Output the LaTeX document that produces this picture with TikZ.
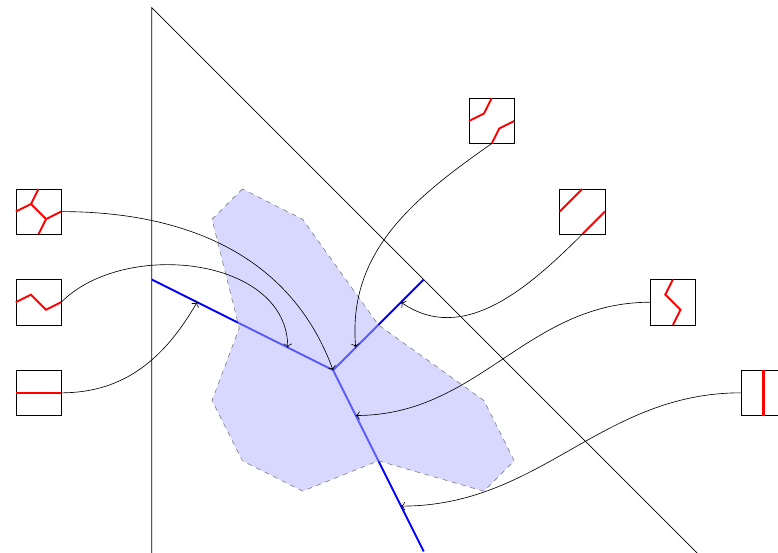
\documentclass[tikz,border=0pt]{standalone}
\usetikzlibrary{arrows.meta,positioning}
\tikzset{
  cell/.style={draw, thin, minimum size=1cm, inner sep=0pt, outer sep=0pt},
  tropic/.style={draw=red, very thick},
  spine/.style={draw=blue, very thick},
  region/.style={fill=blue!30, fill opacity=.5, draw=black!50, dashed},
  link/.style={->, thin}
}
\begin{document}
\begin{tikzpicture}[node distance=1cm]
  \useasboundingbox (-7.35,-4.02) rectangle (9.82,8.17);
  \begin{scope}
  \clip (-7.35,-4.02) rectangle (9.82,8.17);
  % big triangle
  \draw (-4,-4.5) -- (-4,8) -- (8.5,-4.5);
  % tropical line and its points
  \coordinate (v) at (0,0);
  \coordinate (w) at (-4,2);
  \coordinate (ne) at (2,2);
  \coordinate (s) at (2,-4);
  \coordinate (w1) at (-1,.5);
  \coordinate (w2) at (-3,1.5);
  \coordinate (ne1) at (.5,.5);
  \coordinate (ne2) at (1.5,1.5);
  \coordinate (s1) at (.5,-1);
  \coordinate (s2) at (1.5,-3);
  \draw[spine] (w) -- (v) -- (ne) (v) -- (s);
  \end{scope}
  % region
  \path[region] (-2,4) -- (-2.67,3.33) -- (-2.07,.93) -- (-2.67,-.67) -- (-2,-2)
    -- (-.67,-2.67) -- (1,-2) -- (3.33,-2.67) -- (4,-2) -- (3.33,-.67) -- (1,1)
    -- (-.67,3.33) -- cycle;
  % local pictures
  \node[cell] (la) at (-6.5,3.5) {};
  \node[cell, below=of la] (lb) {};
  \node[cell, below=of lb] (lc) {};
  \node[cell] (ra) at (3.5,5.5) {};
  \node[cell] (rb) at (5.5,3.5) {};
  \node[cell] (rc) at (7.5,1.5) {};
  \node[cell] (rd) at (9.5,-.5) {};
  \begin{scope}[shift={(la.south west)}]
    \draw[tropic] (0,.5) -- (1/3,2/3) -- (.5,1) (1/3,2/3) -- (2/3,1/3) -- (1,.5)
      (2/3,1/3) -- (.5,0);
  \end{scope}
  \begin{scope}[shift={(lb.south west)}]
    \draw[tropic] (0,.5) -- (1/3,2/3) -- (2/3,1/3) -- (1,.5);
  \end{scope}
  \begin{scope}[shift={(lc.south west)}]
    \draw[tropic] (0,.5) -- (1,.5);
  \end{scope}
  \begin{scope}[shift={(ra.south west)}]
    \draw[tropic] (0,.5) -- (1/3,2/3) -- (.5,1) (.5,0) -- (2/3,1/3) -- (1,.5);
  \end{scope}
  \begin{scope}[shift={(rb.south west)}]
    \draw[tropic] (0,.5) -- (.5,1) (.5,0) -- (1,.5);
  \end{scope}
  \begin{scope}[shift={(rc.south west)}]
    \draw[tropic] (.5,1) -- (1/3,2/3) -- (2/3,1/3) -- (.5,0);
  \end{scope}
  \draw[tropic, line width=1.4pt] (rd.south) -- (rd.north);
  % arrows
  \draw[link] (la.east) to[out=0, in=110] (v);
  \draw[link] (lb.east) to[out=45, in=90] (w1);
  \draw[link] (lc.east) to[out=0, in=-120] (w2);
  \draw[link] (ra.south) to[out=-145, in=95] (ne1);
  \draw[link] (rb.south) to[out=-135, in=-35] (ne2);
  \draw[link] (rc.west) to[out=180, in=0] (s1);
  \draw[link] (rd.west) to[out=180, in=0] (s2);
\end{tikzpicture}
\end{document}
